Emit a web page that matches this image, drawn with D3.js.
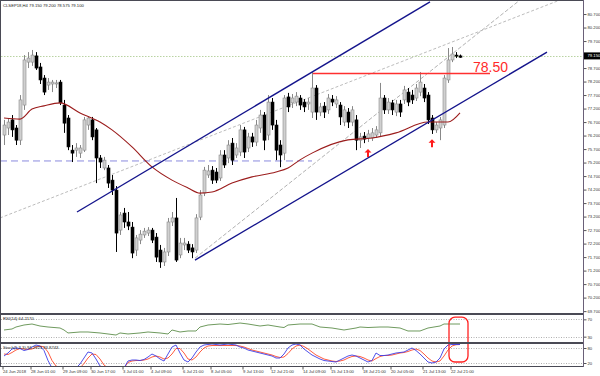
<!DOCTYPE html>
<html>
<head>
<meta charset="utf-8">
<script src="https://cdnjs.cloudflare.com/ajax/libs/d3/7.8.5/d3.min.js"></script>
<style>
body { margin: 0; background: #fff; }
svg { display: block; font-family: "Liberation Sans", Arial, sans-serif; }
</style>
</head>
<body>
<svg id="chart" width="600" height="376"></svg>
<script>
// H4 candles, one value per bar
var opens = [76.22,76.48,76.78,76.48,76.03,77.33,78.92,78.92,79.15,78.74,
	78.33,78.07,78.11,78.11,78.18,77.33,76.85,75.66,75.66,75.55,
	75.66,76.59,76.78,76.41,75.37,75.00,75.00,74.55,74.18,72.70,
	73.33,73.00,72.81,71.96,72.33,72.52,72.59,72.70,72.44,71.96,
	71.52,71.89,73.00,73.15,71.78,72.15,72.18,72.04,71.96,73.18,
	74.07,74.74,74.92,74.85,74.63,75.48,75.37,75.92,75.48,75.59,
	76.41,75.74,76.15,75.96,76.48,76.96,76.22,77.44,76.59,75.85,
	75.55,77.63,77.41,77.44,77.59,77.44,77.37,77.07,77.96,77.07,
	77.29,77.15,77.55,77.37,77.33,76.70,77.07,76.70,76.78,76.03,
	76.18,76.11,76.11,76.22,76.30,77.59,77.15,77.41,77.07,77.37,
	77.52,77.81,77.70,77.59,77.81,77.96,77.70,76.85,76.41,76.48,
	76.59,78.26,79.00,79.18,79.15];
var highs = [76.78,76.85,76.96,76.59,77.70,79.18,79.29,79.37,79.29,78.89,
	78.44,78.33,78.26,78.26,78.26,77.52,76.96,75.85,75.92,75.85,
	76.89,76.92,76.89,76.48,75.48,75.41,75.11,74.74,74.33,73.37,
	73.52,73.37,73.00,72.52,72.70,72.78,72.81,72.78,72.59,72.15,
	72.04,73.15,73.37,73.89,72.41,72.41,72.29,72.18,73.29,74.18,
	75.04,75.11,75.07,75.00,75.66,75.66,76.03,76.11,75.92,76.59,
	76.52,76.30,76.30,76.78,77.15,77.07,77.70,77.59,76.78,76.03,
	77.70,77.78,77.74,77.81,77.70,77.55,77.59,78.55,78.07,77.41,
	77.44,77.74,77.70,77.66,77.44,77.29,77.22,77.29,76.96,76.30,
	76.33,76.41,76.48,76.55,78.15,77.70,77.59,77.52,77.52,77.52,
	78.04,77.96,77.89,78.11,78.55,78.11,77.81,76.96,76.70,76.89,
	78.44,79.44,79.48,79.29,79.20];
var lows = [75.85,76.22,76.15,75.85,75.85,77.15,78.70,78.78,78.63,78.11,
	77.70,77.89,77.81,77.96,77.33,76.30,75.66,75.22,75.41,75.37,
	75.59,76.41,76.03,74.44,75.00,74.92,74.26,74.00,71.89,72.52,
	72.78,72.70,71.66,71.74,72.18,72.41,72.48,72.22,71.52,71.30,
	71.37,71.74,72.85,71.52,71.66,71.96,71.85,71.66,71.85,73.07,
	73.96,74.63,74.41,74.44,74.52,75.00,75.18,75.11,75.37,75.44,
	75.37,75.59,75.78,75.81,76.30,75.66,76.03,76.41,75.29,75.03,
	75.29,77.07,77.22,77.29,77.15,77.07,77.15,76.85,76.78,76.92,
	76.85,77.00,77.29,77.22,76.59,76.55,76.48,76.55,75.66,75.74,
	75.92,75.96,76.00,76.11,76.18,77.00,77.00,76.96,76.92,76.89,
	77.37,77.29,77.37,77.48,77.66,77.44,76.63,76.26,76.30,76.03,
	76.48,78.15,78.92,79.07,79.08];
var closes = [76.59,76.70,76.41,76.03,77.52,79.00,79.07,79.18,78.70,78.26,
	77.81,78.18,78.18,78.15,77.41,76.66,75.78,75.55,75.74,75.74,
	76.78,76.85,76.15,75.37,75.22,75.29,74.44,74.18,72.59,73.26,
	73.00,72.85,71.85,72.41,72.55,72.66,72.70,72.33,71.70,71.52,
	71.89,73.00,73.15,71.59,72.22,72.22,71.96,71.89,73.15,74.00,
	74.92,74.89,74.55,74.55,75.48,75.11,75.85,75.29,75.74,76.41,
	75.59,76.15,75.96,76.59,76.96,76.03,77.44,76.59,75.66,75.48,
	77.59,77.26,77.59,77.66,77.33,77.26,77.44,77.96,77.07,77.26,
	77.07,77.59,77.44,77.52,76.89,77.15,76.70,77.15,76.03,76.15,
	76.07,76.26,76.30,76.41,77.59,77.15,77.44,77.15,77.37,77.07,
	77.89,77.44,77.52,77.96,78.18,77.59,76.78,76.41,76.59,76.78,
	78.33,79.00,79.22,79.15,79.10];

// moving average: [bar, price]
var maPoints = [[0,76.85],[4,76.81],[7,77.18],[10,77.30],[14,77.41],[19,77.04],[24,76.70],
	[27,76.41],[32,75.78],[37,75.04],[42,74.55],[46,74.26],[49,74.07],[52,74.11],[57,74.44],
	[62,74.67],[68,74.85],[71,75.00],[74,75.30],[77,75.55],[86,76.04],[92,76.11],[98,76.30],
	[106,76.70],[111,76.70],[114,77.04]];

// RSI(14): [bar, value]
var rsiPoints = [[0,45.4],[2,47.7],[3,52.3],[5,56.9],[7,59.2],[9,54.6],[11,52.3],[14,50.0],
	[15,45.4],[16,38.5],[19,40.8],[21,40.8],[24,38.5],[26,36.2],[28,33.8],[29,38.5],[31,36.2],
	[34,38.5],[36,40.8],[39,38.5],[41,36.2],[42,45.4],[44,40.8],[46,43.1],[48,43.1],[49,52.3],
	[51,56.9],[54,59.2],[56,58.0],[59,61.5],[61,59.2],[64,54.6],[66,56.9],[69,52.3],[70,51.1],
	[71,56.9],[74,59.2],[77,59.2],[79,52.3],[82,50.0],[85,45.4],[88,50.0],[89,52.3],[91,51.1],
	[94,52.3],[96,52.3],[99,50.0],[101,43.1],[104,43.1],[106,50.0],[109,54.6],[110,59.2],[114,59.2]];

// Stochastic(5,3,3) main and signal, one value per bar
var stochK = [48,60,76,80,78,70,74,84,92,88,
	70,30,0,0,0,0,0,0,0,16,
	40,64,60,36,8,0,0,0,0,0,
	0,28,32,32,30,34,44,56,48,36,
	28,56,84,92,60,32,24,40,64,84,
	92,94,96,94,92,94,96,94,92,84,
	80,72,68,64,60,56,52,48,40,40,
	56,80,92,96,92,76,64,52,44,36,
	30,28,26,24,32,40,48,52,48,40,
	32,24,30,60,50,50,52,56,60,62,
	64,72,80,70,56,40,24,20,24,40,
	76,92,94,94,94];
var stochD = [56,54,62,72,78,76,74,76,84,88,
	84,64,30,8,0,0,0,0,0,0,
	18,40,56,54,36,12,0,0,0,0,
	0,22,28,30,30,32,36,44,48,44,
	36,40,56,78,78,60,36,32,44,64,
	80,88,90,90,90,90,90,90,90,88,
	84,78,72,68,64,60,56,52,46,42,
	44,58,76,88,92,86,76,64,52,44,
	36,32,28,26,28,32,40,46,48,46,
	40,32,28,38,46,50,50,52,56,60,
	62,66,72,76,70,56,40,28,24,28,
	48,72,88,93,94];

// drawn objects: [bar, price]
var channelUpper = [[18.25,73.37],[106.5,81.15]];
var channelLower = [[47.75,71.59],[135.75,79.29]];
var fanA = [[-1,73.15],[139,81.22]];
var fanB = [[47.75,71.66],[129,81.22]];
var supportLevel = [[-1,75.26],[77,75.26]];
var resistLevel = [[77.25,78.50],[121.5,78.50]];
var arrowBars = [91, 107];
var arrowPrices = [75.55, 75.92];
var bidPrice = 79.15;

var priceTicks = [80.7,80.2,79.7,78.7,78.2,77.7,77.2,76.7,76.2,75.7,75.2,74.7,74.2,73.7,73.2,72.7,72.2,71.7,71.2,70.7,70.2,69.7];
var timeIdx = [0,7,15,22,30,37,45,52,60,67,75,82,90,97,105,112];
var timeLabels = ["24 Jun 2018","28 Jun 01:00","29 Jun 09:00","30 Jun 17:00","3 Jul 01:00","4 Jul 09:00",
	"6 Jul 21:00","8 Jul 05:00","9 Jul 13:00","12 Jul 21:00","14 Jul 09:00","15 Jul 13:00",
	"18 Jul 21:00","20 Jul 05:00","21 Jul 13:00","22 Jul 21:00"];

var svg = d3.select("#chart"),
	axisX = 583,
	fs = 4.2;

var x = d3.scaleLinear().domain([0, 114]).range([4, 460]);
var y = d3.scaleLinear().domain([69.63, 81.22]).range([313, 0]);
var yRsi = d3.scaleLinear().domain([20, 80]).range([341, 315]);
var yStoch = d3.scaleLinear().domain([0, 100]).range([368, 343]);

var defs = svg.append("defs");
function clip(id, y0, y1) {
	defs.append("clipPath").attr("id", id).append("rect")
		.attr("x", 1).attr("y", y0).attr("width", axisX - 1).attr("height", y1 - y0);
}
clip("cMain", 1, 313);
clip("cRsi", 315, 342);
clip("cSt", 344, 366);

var main = svg.append("g").attr("clip-path", "url(#cMain)");

function seg(g, pts, color, width, dash) {
	return g.append("line")
		.attr("x1", x(pts[0][0])).attr("y1", y(pts[0][1]))
		.attr("x2", x(pts[1][0])).attr("y2", y(pts[1][1]))
		.attr("stroke", color).attr("stroke-width", width)
		.attr("stroke-dasharray", dash);
}

// background objects
seg(main, fanA, "#b4b4b4", 0.9, "3,2");
seg(main, fanB, "#a8a8a8", 0.9, "4,2");
seg(main, supportLevel, "#8a8ade", 1, "7,4");
main.append("line")
	.attr("x1", 1).attr("x2", axisX)
	.attr("y1", Math.round(y(bidPrice)) + 0.5).attr("y2", Math.round(y(bidPrice)) + 0.5)
	.attr("stroke", "#b9d3a2").attr("stroke-dasharray", "1.5,1.5");

// candles
var bars = d3.range(opens.length);
var up = i => closes[i] >= opens[i];
main.selectAll("line.wick").data(bars).enter().append("line")
	.attr("class", "wick")
	.attr("x1", i => x(i) + 0.5).attr("x2", i => x(i) + 0.5)
	.attr("y1", i => y(highs[i])).attr("y2", i => y(lows[i]))
	.attr("stroke", i => up(i) ? "#888" : "#000");
main.selectAll("rect.body").data(bars).enter().append("rect")
	.attr("class", "body")
	.attr("x", i => x(i) - 1)
	.attr("width", 3)
	.attr("y", i => y(Math.max(opens[i], closes[i])))
	.attr("height", i => Math.max(1, Math.abs(y(opens[i]) - y(closes[i]))))
	.attr("fill", i => up(i) ? "#d0d0d0" : "#000")
	.attr("stroke", i => up(i) ? "#8a8a8a" : "#000")
	.attr("stroke-width", 0.6);

// moving average
main.append("path")
	.datum(maPoints)
	.attr("fill", "none")
	.attr("stroke", "#9b1c1c")
	.attr("stroke-width", 1.1)
	.attr("d", d3.line().x(d => x(d[0])).y(d => y(d[1])).curve(d3.curveMonotoneX));

// channel + resistance
seg(main, channelUpper, "#14148c", 1.4, null);
seg(main, channelLower, "#14148c", 1.4, null);
seg(main, resistLevel, "#ff3030", 1.6, null);
main.append("text")
	.attr("x", x(117.25)).attr("y", y(78.50) - 1)
	.attr("fill", "#ff2a2a").attr("font-size", 14)
	.text("78.50");

main.selectAll("path.arrow").data(arrowBars).enter().append("path")
	.attr("class", "arrow")
	.attr("transform", (d, i) => `translate(${x(d)},${y(arrowPrices[i])})`)
	.attr("d", "M0,-4 L3.5,-0.5 L1,-0.5 L1,4 L-1,4 L-1,-0.5 L-3.5,-0.5 Z")
	.attr("fill", "#ff1a1a");

// RSI window
var rsi = svg.append("g").attr("clip-path", "url(#cRsi)");
[70, 30].forEach(function(v) {
	rsi.append("line").attr("x1", 1).attr("x2", axisX)
		.attr("y1", Math.round(yRsi(v)) + 0.5).attr("y2", Math.round(yRsi(v)) + 0.5)
		.attr("stroke", "#b0b0b0").attr("stroke-dasharray", "1,1.5");
});
rsi.append("path")
	.datum(rsiPoints)
	.attr("fill", "none").attr("stroke", "#5f8f4c").attr("stroke-width", 0.9)
	.attr("d", d3.line().x(d => x(d[0])).y(d => yRsi(d[1])));

// Stochastic window
var st = svg.append("g").attr("clip-path", "url(#cSt)");
[80, 20].forEach(function(v) {
	st.append("line").attr("x1", 1).attr("x2", axisX)
		.attr("y1", Math.round(yStoch(v)) + 0.5).attr("y2", Math.round(yStoch(v)) + 0.5)
		.attr("stroke", "#b0b0b0").attr("stroke-dasharray", "1,1.5");
});
st.append("path")
	.datum(stochD)
	.attr("fill", "none").attr("stroke", "#ff4a2a").attr("stroke-width", 0.9)
	.attr("d", d3.line().x((d, i) => x(i)).y(d => yStoch(d)));
st.append("path")
	.datum(stochK)
	.attr("fill", "none").attr("stroke", "#3c3ce6").attr("stroke-width", 0.9)
	.attr("d", d3.line().x((d, i) => x(i)).y(d => yStoch(d)));

// highlight box across both oscillators
svg.append("rect")
	.attr("x", x(111.25)).attr("y", yRsi(75))
	.attr("width", x(116) - x(111.25)).attr("height", yStoch(24) - yRsi(75))
	.attr("rx", 6).attr("fill", "none")
	.attr("stroke", "#ff2020").attr("stroke-width", 1.3);

// window frames
var frame = "#4a4a55";
[[0.5, 313.5], [314.5, 342.5], [343.5, 366.5]].forEach(function(p) {
	svg.append("rect").attr("x", 0.5).attr("y", p[0])
		.attr("width", axisX).attr("height", p[1] - p[0])
		.attr("fill", "none").attr("stroke", frame).attr("stroke-width", 1);
});

// price axis
var yAxis = svg.append("g")
	.attr("transform", `translate(${axisX + 0.5},0)`)
	.call(d3.axisRight(y).tickValues(priceTicks).tickSize(3).tickPadding(1).tickFormat(d3.format(".3f")));
yAxis.select(".domain").remove();

function levelLabels(scale, vals) {
	var g = svg.append("g").attr("transform", `translate(${axisX + 0.5},0)`)
		.call(d3.axisRight(scale).tickValues(vals).tickSize(3).tickPadding(1).tickFormat(d3.format("d")));
	g.select(".domain").remove();
	return g;
}
var rAxis = levelLabels(yRsi, [70, 30]);
var sAxis = levelLabels(yStoch, [80, 20]);

[yAxis, rAxis, sAxis].forEach(function(g) {
	g.attr("font-size", fs).attr("font-family", null);
	g.selectAll("line").attr("stroke", "#555");
	g.selectAll("text").attr("fill", "#333");
});

svg.append("line")
	.attr("x1", axisX + 0.5).attr("x2", axisX + 0.5).attr("y1", 0).attr("y2", 367)
	.attr("stroke", "#6a6078");

// bid label
svg.append("rect")
	.attr("x", axisX + 1).attr("y", y(bidPrice) - 3.5)
	.attr("width", 600 - axisX - 1).attr("height", 7).attr("fill", "#000");
svg.append("text")
	.attr("x", axisX + 4.5).attr("y", y(bidPrice) + 1.5)
	.attr("font-size", fs).attr("fill", "#fff")
	.text(d3.format(".3f")(bidPrice));

// time axis
var xAxis = svg.append("g")
	.attr("transform", "translate(0,366.5)")
	.call(d3.axisBottom(x).tickValues(timeIdx).tickSize(3).tickPadding(1).tickFormat((d, i) => timeLabels[i]));
xAxis.select(".domain").remove();
xAxis.attr("font-size", fs).attr("font-family", null);
xAxis.selectAll("line").attr("stroke", "#555").attr("transform", "translate(-1.5,0)");
xAxis.selectAll("text").attr("text-anchor", "start").attr("x", -1.5).attr("fill", "#333");

// window captions
var captions = [["CLSEP18,H4  79.150 79.200 78.575 79.100", 7],
	["RSI(14) 64.2170", 320], ["Stoch(5,3,3) 94.2923 93.8743", 349]];
captions.forEach(function(c) {
	svg.append("text").attr("x", 3).attr("y", c[1])
		.attr("font-size", fs).attr("fill", "#222").text(c[0]);
});
</script>
</body>
</html>
